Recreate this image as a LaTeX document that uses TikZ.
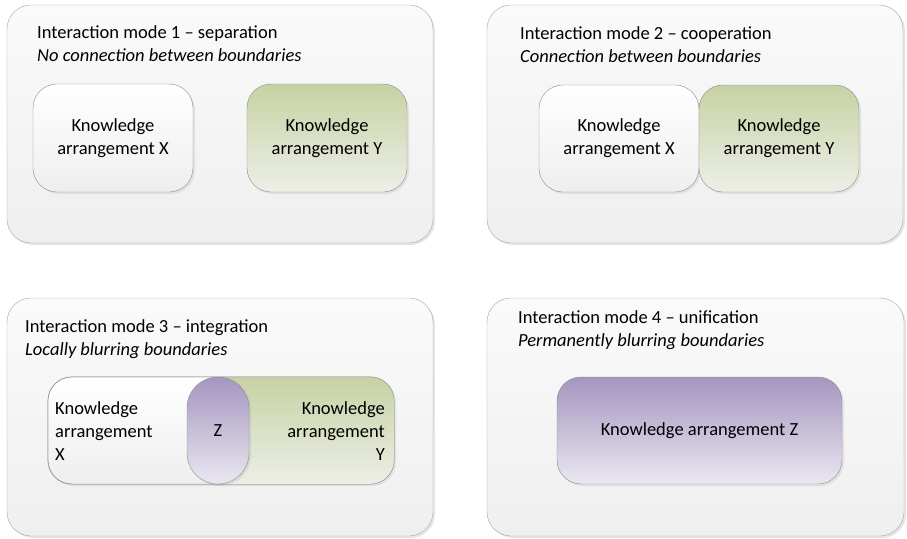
\documentclass[tikz,border=0pt]{standalone}
\usepackage{fontspec}
\setmainfont{Carlito}
\usetikzlibrary{shadows}

\definecolor{panelline}{HTML}{A3A3A3}
\definecolor{paneltop}{HTML}{FAFAFA}
\definecolor{panelbot}{HTML}{EFEFEF}
\definecolor{boxline}{HTML}{8C8C8C}
\definecolor{xbot}{HTML}{EEEEEE}
\definecolor{ytop}{HTML}{C6D2A4}
\definecolor{ybot}{HTML}{EDEFE7}
\definecolor{ztop}{HTML}{A596C0}
\definecolor{zbot}{HTML}{EAE7F0}

\begin{document}
\begin{tikzpicture}[x=1pt, y=-1pt,
    panel/.style={draw=panelline, rounded corners=24pt, inner sep=0pt,
      top color=paneltop, bottom color=panelbot,
      drop shadow={shadow xshift=2pt, shadow yshift=-2pt, opacity=0.2}},
    kabox/.style={draw=boxline, rounded corners=24pt, inner sep=0pt,
      align=center, font=\fontsize{18.5}{23}\selectfont,
      drop shadow={shadow xshift=2pt, shadow yshift=-2pt, opacity=0.15}},
    kax/.style={kabox, top color=white, bottom color=xbot},
    kay/.style={kabox, top color=ytop, bottom color=ybot},
    kaz/.style={kabox, top color=ztop, bottom color=zbot},
    title/.style={anchor=base west, inner sep=0pt, font=\fontsize{18.5}{23}\selectfont},
    subtitle/.style={title, font=\fontsize{18.5}{23}\selectfont\itshape},
    label/.style={inner sep=0pt, font=\fontsize{18.5}{23}\selectfont}]
  \useasboundingbox (0,0) rectangle (907,538);

  %%%%%%%%%% Riquadri %%%%%%%%%%
  \node[panel, minimum width=426pt, minimum height=238pt] (P1) at (220,124) {};
  \node[panel, minimum width=416pt, minimum height=238pt] (P2) at (695,124) {};
  \node[panel, minimum width=426pt, minimum height=238pt] (P3) at (220,417) {};
  \node[panel, minimum width=417pt, minimum height=238pt] (P4) at (695.5,417) {};

  %%%%%%%%%% Titoli %%%%%%%%%%
  \node[title] (T1) at (37,38) {Interaction mode 1 – separation};
  \node[subtitle] (S1) at (37,61) {No connection between boundaries};
  \node[title] (T2) at (520,39) {Interaction mode 2 – cooperation};
  \node[subtitle] (S2) at (520,62) {Connection between boundaries};
  \node[title] (T3) at (25,332) {Interaction mode 3 – integration};
  \node[subtitle] (S3) at (25,355) {Locally blurring boundaries};
  \node[title] (T4) at (518,323) {Interaction mode 4 – unification};
  \node[subtitle] (S4) at (518,346) {Permanently blurring boundaries};

  %%%%%%%%%% Modo 1 %%%%%%%%%%
  \node[kax, minimum width=160pt, minimum height=108pt] (X1) at (113,138) {Knowledge\\arrangement X};
  \node[kay, minimum width=160pt, minimum height=108pt] (Y1) at (327,138) {Knowledge\\arrangement Y};

  %%%%%%%%%% Modo 2 %%%%%%%%%%
  \node[kax, minimum width=160pt, minimum height=107pt] (X2) at (619,138.5) {Knowledge\\arrangement X};
  \node[kay, minimum width=160pt, minimum height=107pt] (Y2) at (779,138.5) {Knowledge\\arrangement Y};

  %%%%%%%%%% Modo 3 %%%%%%%%%%
  \node[kax, minimum width=346pt, minimum height=107pt] (XY3) at (221,430.5) {};
  \begin{scope}
    \clip[rounded corners=24pt] (XY3.north west) rectangle (XY3.south east);
    \shade[top color=ytop, bottom color=ybot] (218,377) rectangle (XY3.south east);
  \end{scope}
  \draw[boxline, rounded corners=24pt] (XY3.north west) rectangle (XY3.south east);
  \node[label, anchor=west, align=left] (X3) at (55,431) {Knowledge\\arrangement\\X};
  \node[label, anchor=east, align=right] (Y3) at (385,431) {Knowledge\\arrangement\\Y};
  \node[kaz, rounded corners=31pt, minimum width=62pt, minimum height=107pt] (Z3) at (218,430.5) {Z};

  %%%%%%%%%% Modo 4 %%%%%%%%%%
  \node[kaz, minimum width=285pt, minimum height=107pt] (Z4) at (699.5,430.5) {Knowledge arrangement Z};
\end{tikzpicture}
\end{document}
